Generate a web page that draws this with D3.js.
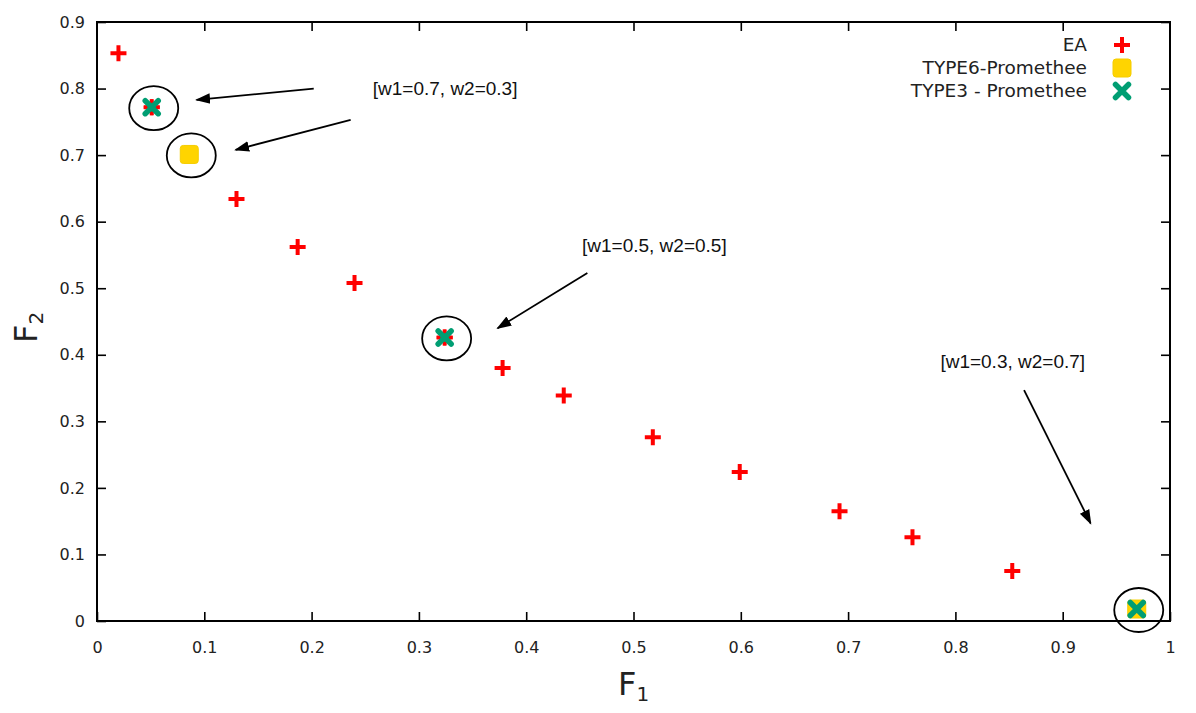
<!DOCTYPE html>
<html>
<head>
<meta charset="utf-8">
<script src="https://cdn.jsdelivr.net/npm/d3@7"></script>
<style>
  body { margin: 0; background: #fff; }
</style>
</head>
<body>
<div id="canvas"></div>
<script>
var margin = {top: 22, right: 26, bottom: 92, left: 97},
    width = 1196 - margin.left - margin.right,
    height = 713 - margin.top - margin.bottom;

// EA front (red +)
const eaF1 = [0.020, 0.051, 0.130, 0.187, 0.240, 0.324, 0.378, 0.435, 0.518, 0.599, 0.692, 0.760, 0.853, 0.969];
const eaF2 = [0.853, 0.772, 0.634, 0.562, 0.508, 0.426, 0.380, 0.339, 0.276, 0.224, 0.165, 0.126, 0.075, 0.018];

// TYPE6-Promethee (yellow squares)
const t6F1 = [0.086, 0.969];
const t6F2 = [0.701, 0.018];

// TYPE3 - Promethee (green x)
const t3F1 = [0.051, 0.324, 0.969];
const t3F2 = [0.772, 0.426, 0.018];

const xTicks = [0, 0.1, 0.2, 0.3, 0.4, 0.5, 0.6, 0.7, 0.8, 0.9, 1];
const yTicks = [0, 0.1, 0.2, 0.3, 0.4, 0.5, 0.6, 0.7, 0.8, 0.9];

const legendNames = ["EA", "TYPE6-Promethee", "TYPE3 - Promethee"];

// annotations (data coordinates)
const noteLabels = ["[w1=0.7, w2=0.3]", "[w1=0.5, w2=0.5]", "[w1=0.3, w2=0.7]"];
const noteX = [0.257, 0.452, 0.786];
const noteY = [0.790, 0.5545, 0.380];
const arrowFrom = [[0.202, 0.800], [0.2364, 0.753], [0.457, 0.523], [0.864, 0.347]];
const arrowTo = [[0.0928, 0.783], [0.1292, 0.708], [0.3734, 0.440], [0.926, 0.1467]];
const ringF1 = [0.051, 0.086, 0.324, 0.969];
const ringF2 = [0.772, 0.701, 0.426, 0.018];

const svg = d3.select("#canvas")
    .append("svg")
    .attr("width", width + margin.left + margin.right)
    .attr("height", height + margin.top + margin.bottom)
    .style("font-family", "DejaVu Sans, sans-serif");

const canvas = svg.append("g")
    .attr("transform", "translate(" + margin.left + "," + margin.top + ")");

svg.append("defs").append("marker")
    .attr("id", "head")
    .attr("viewBox", "0 0 10 10")
    .attr("refX", 9).attr("refY", 5)
    .attr("markerWidth", 15).attr("markerHeight", 15)
    .attr("markerUnits", "userSpaceOnUse")
    .attr("orient", "auto")
    .append("path")
    .attr("d", "M0,1.5 L10,5 L0,8.5 z")
    .attr("fill", "black");

const xScale = d3.scaleLinear().domain([0, 1]).range([0, width]);
const yScale = d3.scaleLinear().domain([0, 0.9]).range([height, 0]);
const fmt = d3.format("~g");

function styleAxis(g) {
    g.select(".domain").remove();
    g.selectAll(".tick line").attr("stroke", "black").attr("stroke-width", 1.6);
    g.selectAll(".tick text").attr("font-size", 16).attr("fill", "#222")
        .attr("font-family", "DejaVu Sans, sans-serif");
}

canvas.append("g")
    .attr("transform", "translate(0," + height + ")")
    .call(d3.axisBottom(xScale).tickValues(xTicks).tickFormat(fmt).tickSizeInner(-9).tickSizeOuter(0).tickPadding(21))
    .call(styleAxis);

canvas.append("g")
    .call(d3.axisTop(xScale).tickValues(xTicks.slice(1, -1)).tickFormat("").tickSizeInner(-9).tickSizeOuter(0))
    .call(styleAxis);

canvas.append("g")
    .call(d3.axisLeft(yScale).tickValues(yTicks).tickFormat(fmt).tickSizeInner(-9).tickSizeOuter(0).tickPadding(12))
    .call(styleAxis);

canvas.append("g")
    .attr("transform", "translate(" + width + ",0)")
    .call(d3.axisRight(yScale).tickValues(yTicks.slice(1)).tickFormat("").tickSizeInner(-9).tickSizeOuter(0))
    .call(styleAxis);

canvas.append("rect")
    .attr("width", width).attr("height", height)
    .attr("fill", "none").attr("stroke", "black").attr("stroke-width", 2);

// axis titles
const xt = svg.append("text")
    .attr("x", 618).attr("y", 695)
    .attr("font-size", 32).attr("fill", "#222");
xt.append("tspan").text("F");
xt.append("tspan").attr("font-size", 20).attr("dy", 6).text("1");

const yt = svg.append("text")
    .attr("transform", "translate(37,343) rotate(-90)")
    .attr("font-size", 32).attr("fill", "#222");
yt.append("tspan").text("F");
yt.append("tspan").attr("font-size", 20).attr("dy", 6).text("2");

// markers
const plusPath = "M-8,0 L8,0 M0,-8 L0,8";
const crossPath = "M-6.5,-6.5 L6.5,6.5 M-6.5,6.5 L6.5,-6.5";

function drawPlus(sel) {
    sel.attr("d", plusPath).attr("stroke", "#ff0000").attr("stroke-width", 4).attr("fill", "none");
}
function drawSquare(sel) {
    sel.attr("d", "M-9,-6 Q-9,-9 -6,-9 L6,-9 Q9,-9 9,-6 L9,6 Q9,9 6,9 L-6,9 Q-9,9 -9,6 Z")
        .attr("fill", "#ffd400").attr("stroke", "#f5cd00").attr("stroke-width", 1);
}
function drawCross(sel) {
    sel.attr("d", crossPath).attr("stroke", "#009e73").attr("stroke-width", 5.5)
        .attr("stroke-linecap", "round").attr("fill", "none");
}

canvas.selectAll("path.ea")
    .data(d3.zip(eaF1, eaF2))
    .join("path").attr("class", "ea")
    .attr("transform", d => "translate(" + xScale(d[0]) + "," + yScale(d[1]) + ")")
    .call(drawPlus);

canvas.selectAll("path.t6")
    .data(d3.zip(t6F1, t6F2))
    .join("path").attr("class", "t6")
    .attr("transform", d => "translate(" + xScale(d[0]) + "," + yScale(d[1]) + ")")
    .call(drawSquare);

canvas.selectAll("path.t3")
    .data(d3.zip(t3F1, t3F2))
    .join("path").attr("class", "t3")
    .attr("transform", d => "translate(" + xScale(d[0]) + "," + yScale(d[1]) + ")")
    .call(drawCross);

// red arm tips showing through the green crosses
canvas.selectAll("path.ea2")
    .data(d3.zip(t3F1, t3F2).slice(0, 2))
    .join("path").attr("class", "ea2")
    .attr("transform", d => "translate(" + xScale(d[0]) + "," + yScale(d[1]) + ")")
    .attr("d", "M-8,0 L-5,0 M5,0 L8,0 M0,-8 L0,-5 M0,5 L0,8")
    .attr("stroke", "#ff0000").attr("stroke-width", 3).attr("fill", "none");

// rings
canvas.selectAll("ellipse")
    .data(d3.zip(ringF1, ringF2))
    .join("ellipse")
    .attr("cx", d => xScale(d[0]) + 2)
    .attr("cy", d => yScale(d[1]) + 1)
    .attr("rx", 24.5).attr("ry", 22)
    .attr("fill", "none").attr("stroke", "black").attr("stroke-width", 1.8);

// arrows
canvas.selectAll("line.arrow")
    .data(d3.zip(arrowFrom, arrowTo))
    .join("line").attr("class", "arrow")
    .attr("x1", d => xScale(d[0][0])).attr("y1", d => yScale(d[0][1]))
    .attr("x2", d => xScale(d[1][0])).attr("y2", d => yScale(d[1][1]))
    .attr("stroke", "black").attr("stroke-width", 1.8)
    .attr("marker-end", "url(#head)");

canvas.selectAll("text.note")
    .data(noteLabels)
    .join("text").attr("class", "note")
    .attr("x", (d, i) => xScale(noteX[i]))
    .attr("y", (d, i) => yScale(noteY[i]))
    .style("font-family", "Liberation Sans, Arial, sans-serif")
    .attr("font-size", 19)
    .attr("fill", "#111")
    .text(d => d);

// legend
const legend = svg.append("g");
const legendDraw = [drawPlus, drawSquare, drawCross];
legendNames.forEach((name, i) => {
    const y = 45 + i * 23;
    legend.append("text")
        .attr("x", 1087).attr("y", y).attr("dy", "0.35em")
        .attr("text-anchor", "end")
        .attr("font-size", 18.5).attr("fill", "#222")
        .text(name);
    legend.append("path")
        .attr("transform", "translate(1122," + y + ")")
        .call(legendDraw[i]);
});
</script>
</body>
</html>
